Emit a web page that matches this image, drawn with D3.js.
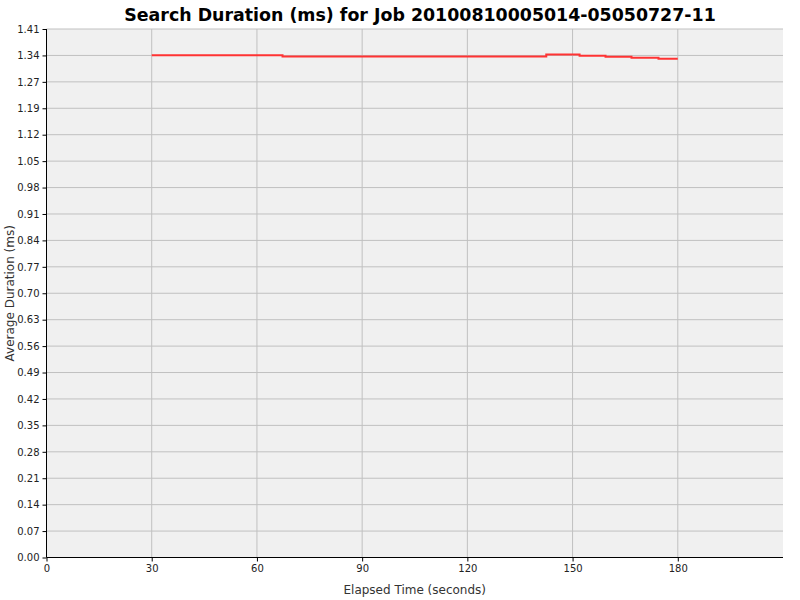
<!DOCTYPE html>
<html>
<head>
<meta charset="utf-8">
<script src="https://cdn.jsdelivr.net/npm/d3@7"></script>
<style>
  body { margin: 0; background: #fff; }
  text { font-family: "DejaVu Sans", sans-serif; }
</style>
</head>
<body>
<svg id="chart" width="800" height="600"></svg>
<script>
(function () {
  'use strict';

  const title = 'Search Duration (ms) for Job 20100810005014-05050727-11';

  // step points (elapsed seconds, avg duration ms)
  const elapsed = [30, 67.3, 142.5, 152, 159.4, 166.8, 174.5, 180];
  const duration = [1.340, 1.3368, 1.3422, 1.3384, 1.3358, 1.3331, 1.3304, 1.3304];

  const xTicks = [0, 30, 60, 90, 120, 150, 180];
  const yMax = 1.41;
  const yTickLabels = ['0.00', '0.07', '0.14', '0.21', '0.28', '0.35', '0.42', '0.49', '0.56',
    '0.63', '0.70', '0.77', '0.84', '0.91', '0.98', '1.05', '1.12', '1.19', '1.27', '1.34', '1.41'];

  const margin = { top: 29, left: 46.5, bottom: 42.5, right: 17 };
  const width = 800, height = 600;

  const svg = d3.select('#chart');

  const x = d3.scaleLinear()
    .domain([0, 210])
    .range([margin.left, width - margin.right]);
  const y = d3.scaleLinear()
    .domain([0, yMax])
    .range([height - margin.bottom, margin.top]);

  const yTicks = yTickLabels.map((l, i) => i * yMax / (yTickLabels.length - 1));

  // plot background
  svg.append('rect')
    .attr('x', x(0))
    .attr('y', y(yMax))
    .attr('width', x(210) - x(0))
    .attr('height', y(0) - y(yMax))
    .attr('fill', '#f0f0f0');

  // grid
  svg.append('g').selectAll('line').data(yTicks.slice(1)).enter()
    .append('line')
      .attr('x1', x(0)).attr('x2', x(210))
      .attr('y1', d => y(d)).attr('y2', d => y(d))
      .attr('stroke', '#c0c0c0').attr('stroke-width', 1);
  svg.append('g').selectAll('line').data(xTicks.slice(1)).enter()
    .append('line')
      .attr('x1', d => x(d)).attr('x2', d => x(d))
      .attr('y1', y(0)).attr('y2', y(yMax))
      .attr('stroke', '#c0c0c0').attr('stroke-width', 1);

  // data line
  const pts = elapsed.map((e, i) => [e, duration[i]]);
  svg.append('path')
    .datum(pts)
    .attr('fill', 'none')
    .attr('stroke', '#ff3333')
    .attr('stroke-width', 2)
    .attr('d', d3.line().curve(d3.curveStepAfter).x(d => x(d[0])).y(d => y(d[1])));

  // axes
  const xAxis = d3.axisBottom(x).tickValues(xTicks).tickSize(4).tickPadding(3);
  const gx = svg.append('g')
    .attr('transform', `translate(0,${y(0)})`)
    .call(xAxis);
  gx.select('.domain').attr('d', `M${x(0)},0H${x(210)}`).attr('stroke', '#000');

  const yAxis = d3.axisLeft(y).tickValues(yTicks)
    .tickFormat((d, i) => yTickLabels[i]).tickSize(4).tickPadding(3);
  const gy = svg.append('g')
    .attr('transform', `translate(${x(0)},0)`)
    .call(yAxis);
  gy.select('.domain').attr('d', `M0,${y(0)}V${y(yMax)}`).attr('stroke', '#000');

  svg.selectAll('.tick text')
    .style('font-size', '10px')
    .attr('fill', '#222');

  // title and axis labels
  svg.append('text')
    .attr('x', 420)
    .attr('y', 21)
    .attr('text-anchor', 'middle')
    .style('font-size', '17.4px')
    .style('font-weight', 'bold')
    .text(title);

  svg.append('text')
    .attr('x', (x(0) + x(210)) / 2)
    .attr('y', 594)
    .attr('text-anchor', 'middle')
    .style('font-size', '12px')
    .attr('fill', '#333')
    .text('Elapsed Time (seconds)');

  svg.append('text')
    .attr('transform', `translate(14,${(y(0) + y(yMax)) / 2}) rotate(-90)`)
    .attr('text-anchor', 'middle')
    .style('font-size', '12px')
    .attr('fill', '#333')
    .text('Average Duration (ms)');
}());
</script>
</body>
</html>
